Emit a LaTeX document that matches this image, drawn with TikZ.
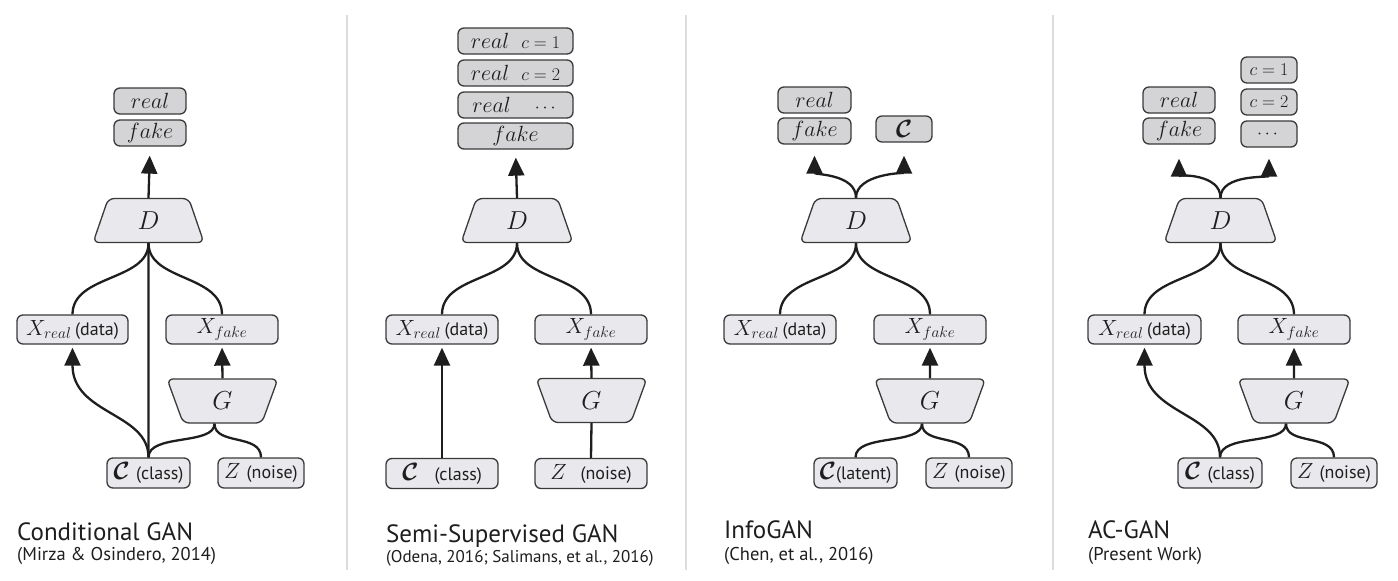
\RequirePackage{fix-cm}
\documentclass[tikz,border=0pt]{standalone}
\usepackage{amsmath}
\usepackage{bm}
\usepackage{fontspec}
\setsansfont{PT Sans}
\usetikzlibrary{shapes.geometric,arrows.meta}
\definecolor{infill}{HTML}{E9E9ED}
\definecolor{outfill}{HTML}{D4D4D6}
\definecolor{edge}{HTML}{3A3A3A}
\definecolor{ink}{HTML}{1E1E1E}
\definecolor{sepgray}{HTML}{DCDCDC}
\newcommand\mfont{\fontsize{22}{26}\selectfont}
\newcommand\bigmfont{\fontsize{26}{30}\selectfont}
\newcommand\smf[1]{{\fontsize{18}{20}\selectfont$#1$}}
\newcommand\lab[1]{{\fontsize{18}{20}\sffamily #1}}
\newcommand\cc{{\fontsize{25}{28}\selectfont$\bm{\mathcal{C}}$}}
\tikzset{
  inbox/.style={draw=edge, fill=infill, line width=1.3pt, rounded corners=6pt,
    minimum height=29pt, inner sep=0pt, font=\mfont, text=ink},
  outbox/.style={draw=edge, fill=outfill, line width=1.3pt, rounded corners=6pt,
    minimum height=26pt, inner sep=0pt, font=\mfont, text=ink},
  trapbox/.style={trapezium, trapezium angle=77, trapezium stretches=true,
    draw=edge, fill=infill, line width=1.3pt, rounded corners=6pt,
    minimum height=44pt, minimum width=112pt, inner sep=0pt, font=\bigmfont, text=ink},
  gbox/.style={trapbox, shape border rotate=180},
  conn/.style={draw=ink, line width=2.3pt},
  arr/.style={conn, -{Triangle[length=18pt,width=16pt]}},
  ttl/.style={anchor=base west, inner sep=0pt, font=\fontsize{25}{28}\sffamily, text=ink},
  subttl/.style={anchor=base west, inner sep=0pt, font=\fontsize{18.5}{20}\sffamily, text=ink},
  sepline/.style={draw=sepgray, line width=2pt}
}
\begin{document}
\begin{tikzpicture}[x=1pt,y=-1pt]
\useasboundingbox (0,0) rectangle (1398,581);
% separators
\draw[sepline] (347,15) -- (347,570);
\draw[sepline] (686,15) -- (686,570);
\draw[sepline] (1053,15) -- (1053,570);

% ---------------- Panel 1: Conditional GAN
\node[outbox, minimum width=72pt] (real1) at (150,101) {$real$};
\node[outbox, minimum width=72pt] (fake1) at (150,133) {$fake$};
\node[trapbox, minimum width=111pt] (D1) at (148.5,220.5) {$D$};
\node[inbox, minimum width=111pt] (Xr1) at (72.5,329.5) {$X_{real}$\,\lab{(data)}};
\node[inbox, minimum width=112pt] (Xf1) at (222,329.5) {$X_{fake}$};
\node[gbox, minimum width=111pt] (G1) at (222.5,401) {$G$};
\node[inbox, minimum width=83pt, minimum height=30pt] (c1) at (148.5,473) {\cc\;\lab{(class)}};
\node[inbox, minimum width=86pt, minimum height=30pt] (Z1) at (261,473) {$Z$\;\lab{(noise)}};
\node[ttl] (t1) at (17,540) {Conditional GAN};
\node[subttl] (s1) at (17,560) {(Mirza \& Osindero, 2014)};

\draw[arr, shorten >=9pt] (D1.north) -- (fake1.south);
\draw[conn] (D1.south) .. controls +(0,38) and +(0,-40) .. (Xr1.north);
\draw[conn] (D1.south) .. controls +(0,38) and +(0,-40) .. (Xf1.north);
\draw[conn] (D1.south) -- (c1.north);
\draw[arr, shorten >=3pt] (c1.north) .. controls +(0,-45) and +(0,70) .. (Xr1.south);
\draw[conn] (c1.north) .. controls +(0,-24) and +(0,22) .. ([xshift=-8pt]G1.south);
\draw[conn] (Z1.north) .. controls +(0,-24) and +(0,22) .. ([xshift=-8pt]G1.south);
\draw[arr, shorten >=3pt] (G1.north) -- (Xf1.south);

% ---------------- Panel 2: Semi-Supervised GAN
\node[outbox, minimum width=115pt] (r21) at (515.5,41) {$real$\hspace{12pt}\smf{c=1}};
\node[outbox, minimum width=115pt] (r22) at (515.5,73) {$real$\hspace{12pt}\smf{c=2}};
\node[outbox, minimum width=115pt] (r23) at (515.5,105) {$real$\hspace{24pt}\smf{\cdots}\hspace{10pt}};
\node[outbox, minimum width=115pt] (fake2) at (515.5,136) {$fake$};
\node[trapbox, minimum width=112pt] (D2) at (517,220.5) {$D$};
\node[inbox, minimum width=112pt] (Xr2) at (442,329.5) {$X_{real}$\,\lab{(data)}};
\node[inbox, minimum width=112pt] (Xf2) at (591,329.5) {$X_{fake}$};
\node[gbox, minimum width=111pt] (G2) at (591.5,400.5) {$G$};
\node[inbox, minimum width=112pt, minimum height=30pt] (c2) at (442,473.5) {\cc\hspace{16pt}\lab{(class)}};
\node[inbox, minimum width=112pt, minimum height=30pt] (Z2) at (591,473.5) {$Z$\hspace{14pt}\lab{(noise)}};
\node[ttl] (t2) at (386,542) {Semi-Supervised GAN};
\node[subttl, font=\fontsize{17}{20}\sffamily] (s2) at (386,562) {(Odena, 2016; Salimans, et al., 2016)};

\draw[arr, shorten >=8pt] (D2.north) -- (fake2.south);
\draw[conn] (D2.south) .. controls +(0,38) and +(0,-40) .. (Xr2.north);
\draw[conn] (D2.south) .. controls +(0,38) and +(0,-40) .. (Xf2.north);
\draw[arr, shorten >=3pt] (c2.north) -- (Xr2.south);
\draw[conn] (Z2.north) -- (G2.south);
\draw[arr, shorten >=3pt] (G2.north) -- (Xf2.south);

% ---------------- Panel 3: InfoGAN
\node[outbox, minimum width=73pt] (real3) at (814.5,100) {$real$};
\node[outbox, minimum width=73pt] (fake3) at (814.5,131) {$fake$};
\node[outbox, minimum width=56pt] (C3) at (904,129) {\cc};
\node[trapbox, minimum width=112pt] (D3) at (856,220.5) {$D$};
\node[inbox, minimum width=112pt] (Xr3) at (780,329.5) {$X_{real}$\,\lab{(data)}};
\node[inbox, minimum width=112pt] (Xf3) at (930,329.5) {$X_{fake}$};
\node[gbox, minimum width=111pt] (G3) at (930,401) {$G$};
\node[inbox, minimum width=83pt, minimum height=30pt] (c3) at (855.5,473) {\cc\lab{(latent)}};
\node[inbox, minimum width=86pt, minimum height=30pt] (Z3) at (969,473) {$Z$\;\lab{(noise)}};
\node[ttl] (t3) at (724,538) {InfoGAN};
\node[subttl] (s3) at (724,560) {(Chen, et al., 2016)};

\draw[arr, shorten >=11pt] (D3.north) .. controls +(0,-24) and +(0,30) .. (fake3.south);
\draw[arr, shorten >=13pt] (D3.north) .. controls +(0,-24) and +(0,30) .. (C3.south);
\draw[conn] (D3.south) .. controls +(0,38) and +(0,-40) .. (Xr3.north);
\draw[conn] (D3.south) .. controls +(0,38) and +(0,-40) .. (Xf3.north);
\draw[conn] (c3.north) .. controls +(0,-24) and +(0,22) .. ([xshift=-8pt]G3.south);
\draw[conn] (Z3.north) .. controls +(0,-24) and +(0,22) .. ([xshift=-8pt]G3.south);
\draw[arr, shorten >=3pt] (G3.north) -- (Xf3.south);

% ---------------- Panel 4: AC-GAN
\node[outbox, minimum width=72pt] (real4) at (1179,100) {$real$};
\node[outbox, minimum width=72pt] (fake4) at (1179,131) {$fake$};
\node[outbox, minimum width=56pt] (k41) at (1269,70) {\smf{c=1}};
\node[outbox, minimum width=56pt] (k42) at (1269,102) {\smf{c=2}};
\node[outbox, minimum width=56pt] (k43) at (1269,134) {\smf{\cdots}};
\node[trapbox, minimum width=113pt] (D4) at (1220.5,220.5) {$D$};
\node[inbox, minimum width=113pt] (Xr4) at (1144.5,329.5) {$X_{real}$\,\lab{(data)}};
\node[inbox, minimum width=112pt] (Xf4) at (1294,329.5) {$X_{fake}$};
\node[gbox, minimum width=112pt] (G4) at (1294,401) {$G$};
\node[inbox, minimum width=84pt, minimum height=30pt] (c4) at (1220,473) {\cc\;\lab{(class)}};
\node[inbox, minimum width=86pt, minimum height=30pt] (Z4) at (1334,473) {$Z$\;\lab{(noise)}};
\node[ttl] (t4) at (1088,538) {AC-GAN};
\node[subttl] (s4) at (1088,560) {(Present Work)};

\draw[arr, shorten >=14pt] (D4.north) .. controls +(0,-24) and +(0,30) .. (fake4.south);
\draw[arr, shorten >=11pt] (D4.north) .. controls +(0,-24) and +(0,30) .. (k43.south);
\draw[conn] (D4.south) .. controls +(0,38) and +(0,-40) .. (Xr4.north);
\draw[conn] (D4.south) .. controls +(0,38) and +(0,-40) .. (Xf4.north);
\draw[arr, shorten >=3pt] (c4.north) .. controls +(0,-45) and +(0,70) .. (Xr4.south);
\draw[conn] (c4.north) .. controls +(0,-24) and +(0,22) .. ([xshift=-8pt]G4.south);
\draw[conn] (Z4.north) .. controls +(0,-24) and +(0,22) .. ([xshift=-8pt]G4.south);
\draw[arr, shorten >=3pt] (G4.north) -- (Xf4.south);
\end{tikzpicture}
\end{document}
